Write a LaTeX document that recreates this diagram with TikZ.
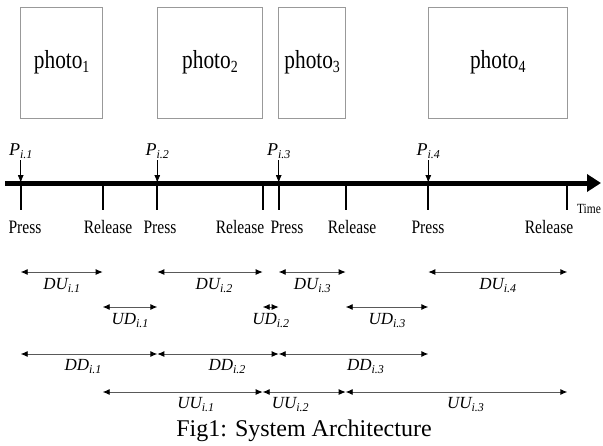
\documentclass[tikz,border=0pt]{standalone}
\usepackage{fontspec}
\setmainfont{Liberation Serif}
\usetikzlibrary{arrows.meta}
\usetikzlibrary{positioning}

\newcommand{\sub}[2][12]{\raisebox{-0.35ex}{\fontsize{#1}{#1}\selectfont #2}}
\newcommand{\ivl}[2]{#1\sub{i.#2}}
\newcommand{\cond}[1]{\scalebox{0.82}[1]{#1}}

\tikzset{
  span/.style={{Latex[length=7pt,width=6pt,black]}-{Latex[length=7pt,width=6pt,black]}, gray!70!black, line width=0.9pt},
  lbl/.style={font=\fontsize{17}{17}\selectfont\itshape, text=black, inner sep=1pt},
  evt/.style={font=\fontsize{19}{19}\selectfont, inner sep=0pt},
  photobox/.style={draw=gray!80, line width=0.6pt},
  tickmark/.style={line width=1.7pt},
  ptr/.style={-{Latex[length=8pt,width=6pt]}, line width=0.8pt},
}

\begin{document}
\begin{tikzpicture}[x=1pt,y=-1pt]
\useasboundingbox (0,0) rectangle (603,445);

\foreach \n/\x in {p1/20.7,r1/102.7,p2/157.3,r2/262.7,p3/278.7,r3/345.7,p4/428.3,r4/567.3}
  \coordinate (\n) at (\x,183);
\coordinate (top) at (0,7);
\coordinate (bot) at (0,118);
\coordinate (du) at (0,272);
\coordinate (ud) at (0,307);
\coordinate (dd) at (0,354);
\coordinate (uu) at (0,392);
\coordinate (start) at (5,183);
\coordinate (end) at (601,183);

% photos
\foreach \i in {1,...,4}
  \draw[photobox] (p\i |- top) rectangle (r\i |- bot)
    node[midway, font=\fontsize{26}{26}\selectfont] (photo\i) {\cond{photo\sub[17]{\i}}};

% time line
\draw[line width=5pt, -{Triangle[length=14pt,width=17pt]}] (start) -- (end);
\foreach \n in {p1,r1,p2,r2,p3,r3,p4,r4}
  \draw[tickmark] (\n) -- ++(0,27);
\node[font=\fontsize{14}{14}\selectfont] (time) at (589,209) {\cond{Time}};

\foreach \i in {1,...,4}{
  \node[lbl, font=\fontsize{18}{18}\selectfont\itshape, above=23pt of p\i] (P\i) {P\sub{i.\i}};
  \draw[ptr] (P\i) -- (p\i);
}

\node[evt] (lp1) at (25,227) {\cond{Press}};
\node[evt] (lr1) at (108,227) {\cond{Release}};
\node[evt] (lp2) at (160,227) {\cond{Press}};
\node[evt] (lr2) at (240,227) {\cond{Release}};
\node[evt] (lp3) at (287,227) {\cond{Press}};
\node[evt] (lr3) at (352,227) {\cond{Release}};
\node[evt] (lp4) at (428,227) {\cond{Press}};
\node[evt] (lr4) at (549,227) {\cond{Release}};

% intervals
\draw[span] (p1 |- du) -- (r1 |- du) node[lbl, midway, below=5pt] (du1) {\ivl{DU}{1}};
\draw[span] (p2 |- du) -- (r2 |- du) node[lbl, midway, below=5pt, xshift=4pt] (du2) {\ivl{DU}{2}};
\draw[span] (p3 |- du) -- (r3 |- du) node[lbl, midway, below=5pt] (du3) {\ivl{DU}{3}};
\draw[span] (p4 |- du) -- (r4 |- du) node[lbl, midway, below=5pt] (du4) {\ivl{DU}{4}};

\draw[span] (r1 |- ud) -- (p2 |- ud) node[lbl, midway, below=5pt] (ud1) {\ivl{UD}{1}};
\draw[span] (r2 |- ud) -- (p3 |- ud) node[lbl, midway, below=5pt] (ud2) {\ivl{UD}{2}};
\draw[span] (r3 |- ud) -- (p4 |- ud) node[lbl, midway, below=5pt] (ud3) {\ivl{UD}{3}};

\draw[span] (p1 |- dd) -- (p2 |- dd) node[lbl, midway, below=4pt, xshift=-6pt] (dd1) {\ivl{DD}{1}};
\draw[span] (p2 |- dd) -- (p3 |- dd) node[lbl, midway, below=4pt, xshift=9pt] (dd2) {\ivl{DD}{2}};
\draw[span] (p3 |- dd) -- (p4 |- dd) node[lbl, midway, below=4pt, xshift=12pt] (dd3) {\ivl{DD}{3}};

\draw[span] (r1 |- uu) -- (r2 |- uu) node[lbl, midway, below=4pt, xshift=13pt] (uu1) {\ivl{UU}{1}};
\draw[span] (r2 |- uu) -- (r3 |- uu) node[lbl, midway, below=4pt, xshift=-14pt] (uu2) {\ivl{UU}{2}};
\draw[span] (r3 |- uu) -- (r4 |- uu) node[lbl, midway, below=4pt, xshift=9pt] (uu3) {\ivl{UU}{3}};

\node[font=\fontsize{24}{24}\selectfont] (caption) at (304,431) {Fig1: System Architecture};
\end{tikzpicture}
\end{document}
